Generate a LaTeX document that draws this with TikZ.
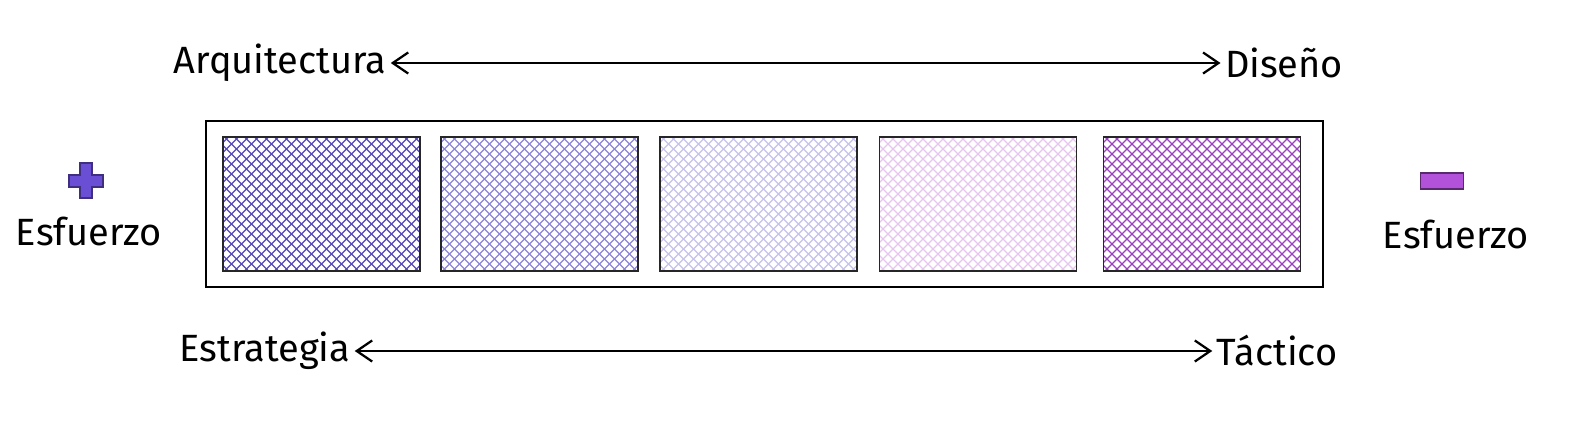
\documentclass[tikz,border=0pt]{standalone}
\usepackage{fontspec}
\setmainfont{Fira Sans}
\usetikzlibrary{arrows.meta}
\definecolor{hatchA}{HTML}{5548B8}
\definecolor{hatchB}{HTML}{8C84D8}
\definecolor{hatchC}{HTML}{C6C2EE}
\definecolor{hatchD}{HTML}{E6C6EE}
\definecolor{hatchE}{HTML}{9A42BE}
\definecolor{plusc}{HTML}{6A4FD4}
\definecolor{minusc}{HTML}{B251DA}

\begin{document}
\begin{tikzpicture}[x=0.025cm,y=-0.025cm,
    lbl/.style={font=\fontsize{27}{32}\selectfont,inner sep=3pt},
    axis/.style={{Straight Barb[length=11pt,width=15pt]}-{Straight Barb[length=11pt,width=15pt]},line width=1.6pt},
    cell/.style={draw=black!85,line width=1.1pt,minimum width=197*0.025cm,minimum height=134*0.025cm,
      path picture={
        \foreach \k in {-180,-170,...,180}{
          \draw[#1,line width=0.9pt] ([xshift=\k*0.025cm]path picture bounding box.center) ++(-150,150) -- ++(300,-300);
          \draw[#1,line width=0.9pt] ([xshift=\k*0.025cm]path picture bounding box.center) ++(-150,-150) -- ++(300,300);
        }}}]
  \useasboundingbox (0,0) rectangle (1578,428);
  % the frame round the five cells
  \node[draw,line width=1.3pt,minimum width=1117*0.025cm,minimum height=166*0.025cm] (frame) at (764.5,204) {};
  \node[cell=hatchA] (c1) at (321.5,204) {};
  \node[cell=hatchB] (c2) at (539.5,204) {};
  \node[cell=hatchC] (c3) at (758.5,204) {};
  \node[cell=hatchD] (c4) at (978,204) {};
  \node[cell=hatchE] (c5) at (1202,204) {};
  % top scale
  \node[lbl] (arq) at (280,63) {Arquitectura};
  \node[lbl] (dis) at (1284,63) {Diseño};
  \draw[axis] (arq) -- (dis);
  % bottom scale
  \node[lbl] (est) at (265,351) {Estrategia};
  \node[lbl] (tac) at (1277,351) {Táctico};
  \draw[axis] (est) -- (tac);
  % effort, more on the left, less on the right
  \filldraw[fill=plusc,draw=plusc!60!black,line width=0.8pt]
    (80,163) -- (92,163) -- (92,175) -- (103,175) -- (103,187) -- (92,187) -- (92,198)
    -- (80,198) -- (80,187) -- (69,187) -- (69,175) -- (80,175) -- cycle;
  \node[lbl] (efl) at (89,231) {Esfuerzo};
  \node[fill=minusc,draw=minusc!50!black,line width=0.8pt,minimum width=43*0.025cm,minimum height=16*0.025cm,inner sep=0pt] (minus) at (1442,181) {};
  \node[lbl] (efr) at (1456,234) {Esfuerzo};
\end{tikzpicture}
\end{document}
